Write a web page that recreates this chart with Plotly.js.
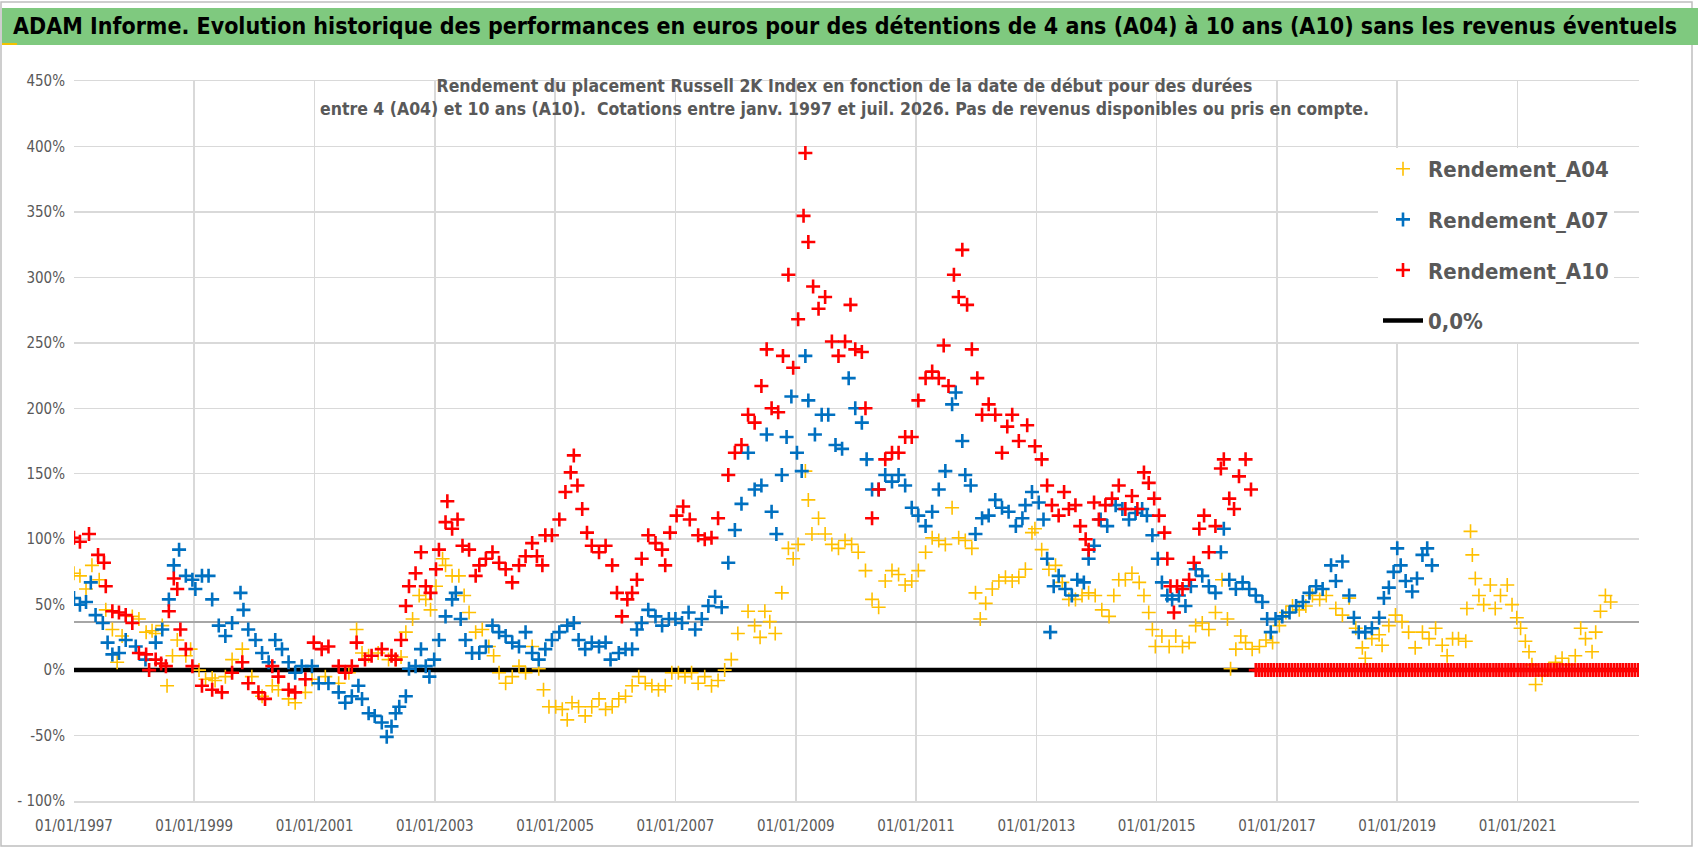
<!DOCTYPE html>
<html>
<head>
<meta charset="utf-8">
<script src="https://cdn.plot.ly/plotly-3.0.1.min.js"></script>
<style>
  html, body { margin: 0; padding: 0; background: #fff; }
  #chart { width: 1698px; height: 856px; }
</style>
</head>
<body>
<div id="chart"></div>
<script>
// values, in % ; x given as decimal years
const a04Years = [
  1997.0,1997.1,1997.2,1997.3,1997.42,1997.53,1997.64,1997.72,1997.8,1997.97,
  1998.08,1998.2,1998.3,1998.36,1998.47,1998.55,1998.64,1998.72,1998.86,1998.94,
  1999.08,1999.19,1999.3,1999.35,1999.52,1999.63,1999.8,1999.96,
  2000.13,2000.3,2000.4,2000.57,2000.68,2000.85,2000.96,
  2001.18,2001.4,2001.57,2001.7,2001.79,2001.9,
  2002.06,2002.23,2002.35,2002.44,2002.52,2002.63,2002.74,2002.85,2002.93,
  2003.02,2003.13,2003.18,2003.29,2003.4,2003.49,2003.57,2003.68,2003.79,2003.9,2003.98,
  2004.07,2004.18,2004.29,2004.4,2004.51,2004.62,2004.73,2004.81,2004.9,
  2005.01,2005.12,2005.2,2005.28,2005.39,2005.5,2005.61,2005.73,2005.84,2005.95,
  2006.06,2006.17,2006.28,2006.39,2006.5,2006.61,2006.72,2006.83,2006.94,
  2007.05,2007.16,2007.27,2007.38,2007.49,2007.6,2007.71,2007.82,2007.93,
  2008.04,2008.21,2008.32,2008.41,2008.49,2008.57,2008.66,2008.77,2008.88,2008.96,
  2009.04,2009.16,2009.21,2009.27,2009.38,2009.49,2009.6,2009.71,2009.82,2009.93,
  2010.04,2010.16,2010.27,2010.38,2010.49,2010.6,2010.71,2010.82,2010.93,
  2011.04,2011.16,2011.27,2011.38,2011.49,2011.6,2011.71,2011.82,2011.93,2011.99,
  2012.07,2012.16,2012.27,2012.38,2012.49,2012.6,2012.71,2012.82,2012.93,2012.98,
  2013.09,2013.21,2013.32,2013.43,2013.54,2013.65,2013.76,2013.87,2013.98,
  2014.09,2014.21,2014.29,2014.37,2014.48,2014.59,2014.71,2014.79,2014.87,2014.93,2014.98,
  2015.09,2015.21,2015.32,2015.43,2015.54,2015.65,2015.76,2015.87,2015.98,
  2016.09,2016.18,2016.23,2016.32,2016.4,2016.48,2016.59,2016.71,2016.82,2016.93,
  2017.04,2017.15,2017.26,2017.37,2017.48,2017.59,2017.71,2017.82,2017.98,
  2018.09,2018.2,2018.31,2018.42,2018.47,2018.58,2018.7,2018.75,2018.86,2018.97,
  2019.08,2019.19,2019.3,2019.42,2019.53,2019.64,2019.75,2019.83,2019.92,
  2020.02,2020.14,2020.16,2020.22,2020.25,2020.3,2020.36,2020.44,2020.55,2020.63,2020.72,2020.83,2020.91,2020.99,
  2021.05,2021.13,2021.19,2021.24,2021.3,2021.41,2021.52,2021.63,2021.74,2021.85,2021.96,
  2022.05,2022.13,2022.24,2022.3,2022.38,2022.46,2022.55
];
const a04Values = [
  74,72,62,80,69,46,31,6,26,41,
  39,29,30,28,34,-12,11,23,11,16,
  0,-7,-6,-8,-5,8,16,-5,
  -20,-12,-15,-22,-25,-17,-7,
  -5,-10,-2,31,13,11,
  13,8,8,10,29,39,57,54,46,
  64,85,80,72,72,57,44,29,31,18,11,
  -2,-10,-5,3,-2,18,1,-15,-28,
  -28,-30,-38,-25,-28,-35,-28,-22,-30,-28,
  -22,-20,-12,-5,-10,-12,-15,-12,-2,
  -2,-5,-2,-10,-5,-12,-8,0,8,
  28,45,34,25,45,37,28,59,93,85,
  96,152,130,104,116,104,96,93,99,96,
  90,76,54,48,68,76,73,65,68,
  76,90,101,99,96,124,101,99,93,59,
  39,51,62,68,71,68,71,77,105,108,
  92,77,80,67,54,54,57,59,57,
  46,41,57,69,69,74,67,57,44,31,18,
  26,18,26,18,21,34,36,31,44,
  69,39,1,16,26,21,16,18,23,21,
  34,44,49,46,49,57,54,57,47,
  42,55,32,17,9,24,27,19,34,42,
  37,29,17,29,24,32,19,11,24,
  24,22,47,106,88,70,57,50,65,47,57,65,50,40,
  32,22,14,4,-11,-4,1,6,9,4,11,
  32,24,14,29,45,57,52
];

const a07Years = [
  1997.0,1997.1,1997.2,1997.28,1997.36,1997.48,1997.56,1997.64,1997.75,1997.86,
  1998.03,1998.19,1998.36,1998.47,1998.58,1998.66,1998.75,1998.86,1998.97,
  1999.02,1999.13,1999.24,1999.3,1999.41,1999.52,1999.63,1999.77,1999.82,1999.9,
  2000.02,2000.13,2000.24,2000.35,2000.46,2000.57,2000.68,2000.79,2000.96,
  2001.07,2001.23,2001.4,2001.51,2001.62,2001.73,2001.79,2001.9,
  2002.0,2002.12,2002.2,2002.28,2002.35,2002.41,2002.52,2002.57,2002.68,2002.77,2002.85,2002.91,2002.99,
  2003.07,2003.18,2003.29,2003.35,2003.43,2003.51,2003.62,2003.74,2003.85,2003.96,
  2004.07,2004.18,2004.29,2004.4,2004.51,2004.62,2004.73,2004.84,2004.95,
  2005.07,2005.2,2005.31,2005.39,2005.5,2005.61,2005.73,2005.84,2005.92,
  2006.06,2006.17,2006.28,2006.36,2006.44,2006.55,2006.67,2006.78,2006.89,
  2007.0,2007.11,2007.22,2007.33,2007.44,2007.55,2007.66,2007.77,2007.88,2007.99,
  2008.1,2008.21,2008.32,2008.43,2008.52,2008.6,2008.68,2008.77,2008.85,2008.93,
  2009.02,2009.1,2009.16,2009.21,2009.32,2009.43,2009.54,2009.66,2009.77,2009.88,2009.99,
  2010.1,2010.18,2010.27,2010.38,2010.49,2010.6,2010.71,2010.82,2010.93,
  2011.04,2011.16,2011.27,2011.38,2011.49,2011.6,2011.66,2011.77,2011.82,2011.91,2011.99,
  2012.1,2012.21,2012.32,2012.43,2012.54,2012.66,2012.77,2012.82,2012.93,
  2013.04,2013.12,2013.18,2013.23,2013.29,2013.37,2013.48,2013.59,2013.68,2013.79,2013.87,2013.96,
  2014.07,2014.18,2014.32,2014.43,2014.54,2014.65,2014.76,2014.84,2014.93,
  2015.02,2015.09,2015.18,2015.26,2015.37,2015.48,2015.57,2015.65,2015.76,2015.87,2015.98,
  2016.07,2016.12,2016.21,2016.32,2016.43,2016.54,2016.65,2016.76,2016.84,2016.9,2016.98,
  2017.09,2017.21,2017.32,2017.43,2017.54,2017.65,2017.76,2017.9,2017.98,
  2018.09,2018.2,2018.28,2018.36,2018.47,2018.58,2018.7,2018.78,2018.86,2018.94,
  2019.0,2019.06,2019.14,2019.25,2019.33,2019.42,2019.5,2019.58
];
const a07Values = [
  55,50,52,67,42,36,21,12,13,23,
  18,8,21,31,54,80,92,72,69,
  62,72,72,54,34,26,36,59,46,31,
  23,13,6,23,16,6,-2,3,3,
  -10,-10,-17,-25,-20,-12,-22,-33,
  -35,-40,-51,-43,-33,-28,-20,1,3,16,3,-5,8,
  23,41,54,59,39,23,13,13,18,34,
  29,26,21,18,29,13,8,16,23,
  29,34,36,23,16,21,18,21,8,
  13,16,16,31,36,46,41,34,39,
  39,36,44,31,39,49,56,48,82,107,
  127,166,138,141,180,121,104,149,178,209,
  166,152,240,206,180,195,195,172,169,223,200,
  189,161,138,138,149,144,149,141,124,
  118,110,121,138,152,203,212,175,149,141,104,
  116,118,130,124,121,110,116,126,136,
  128,115,85,29,64,72,62,57,69,67,85,95,
  115,110,126,123,115,120,123,118,103,
  85,67,57,54,57,49,64,77,72,64,59,
  90,108,69,62,67,62,57,52,39,29,39,
  41,44,49,52,59,64,62,80,68,
  83,57,40,29,29,32,40,55,63,75,
  93,80,68,60,70,88,93,80
];

const a10Years = [
  1997.0,1997.1,1997.25,1997.4,1997.5,1997.53,1997.64,1997.75,1997.86,1997.97,
  1998.08,1998.2,1998.25,1998.36,1998.45,1998.53,1998.58,1998.66,1998.72,1998.77,1998.86,1998.97,
  1999.13,1999.3,1999.46,1999.63,1999.8,1999.9,
  2000.07,2000.18,2000.3,2000.4,2000.57,2000.68,2000.85,2000.99,
  2001.12,2001.23,2001.4,2001.51,2001.62,2001.7,2001.84,2001.95,
  2002.12,2002.28,2002.35,2002.44,2002.52,2002.57,2002.68,2002.77,2002.85,2002.93,
  2003.02,2003.07,2003.18,2003.21,2003.29,2003.38,2003.46,2003.57,2003.68,2003.74,2003.85,2003.96,
  2004.07,2004.18,2004.29,2004.4,2004.51,2004.62,2004.7,2004.79,2004.84,2004.95,
  2005.07,2005.17,2005.26,2005.31,2005.37,2005.45,2005.53,2005.61,2005.73,2005.84,2005.95,
  2006.03,2006.11,2006.2,2006.28,2006.36,2006.44,2006.55,2006.67,2006.78,2006.83,2006.91,
  2007.02,2007.13,2007.24,2007.38,2007.49,2007.6,2007.71,2007.88,2007.99,
  2008.1,2008.21,2008.32,2008.43,2008.52,2008.6,2008.71,2008.79,2008.88,2008.96,
  2009.04,2009.13,2009.16,2009.21,2009.29,2009.38,2009.49,2009.6,2009.71,2009.82,2009.91,2009.99,
  2010.1,2010.16,2010.27,2010.38,2010.49,2010.6,2010.71,2010.82,2010.93,
  2011.04,2011.16,2011.27,2011.38,2011.46,2011.54,2011.63,2011.71,2011.77,2011.85,2011.93,
  2012.02,2012.1,2012.21,2012.32,2012.43,2012.52,2012.6,2012.71,2012.85,2012.98,
  2013.09,2013.18,2013.26,2013.37,2013.46,2013.54,2013.65,2013.73,2013.82,2013.87,2013.96,
  2014.04,2014.15,2014.26,2014.37,2014.48,2014.59,2014.68,2014.79,2014.87,2014.96,
  2015.04,2015.13,2015.18,2015.23,2015.29,2015.34,2015.43,2015.54,2015.62,2015.71,2015.79,2015.87,2015.98,
  2016.07,2016.12,2016.21,2016.29,2016.37,2016.48,2016.57
];
const a10Values = [
  101,98,104,88,82,64,45,44,42,36,
  13,12,0,8,5,3,45,70,62,31,16,3,
  -12,-15,-17,-2,6,-10,
  -17,-22,3,-5,-15,-17,-7,21,
  16,18,3,-2,3,21,8,11,
  16,11,8,23,49,64,74,90,64,59,
  77,92,113,129,108,115,95,92,72,80,85,90,
  82,77,67,80,87,97,87,80,103,103,
  115,136,151,164,141,123,105,95,90,95,80,
  59,41,54,59,69,85,103,97,92,80,105,
  118,125,115,103,100,101,116,149,166,
  172,195,189,217,245,200,197,240,302,231,
  268,347,395,327,293,276,285,251,240,251,279,245,
  243,200,116,138,161,166,166,178,178,
  206,223,228,223,248,217,302,285,321,279,245,
  223,195,203,195,166,186,195,175,187,171,
  161,141,126,118,136,123,126,110,100,92,128,
  115,126,131,141,123,133,123,151,143,131,
  118,105,85,64,44,64,62,69,82,108,118,90,110,
  154,161,131,123,148,161,138
];
// no full 10-year horizon after mid-2016: the A10 series sits at 0
const a10TailYears = [
  2016.65,2016.7,2016.75,2016.8,2016.85,2016.9,2016.95,
  2017.0,2017.05,2017.1,2017.15,2017.2,2017.25,2017.3,2017.35,2017.4,2017.45,2017.5,2017.55,2017.6,2017.65,2017.7,2017.75,2017.8,2017.85,2017.9,2017.95,
  2018.0,2018.05,2018.1,2018.15,2018.2,2018.25,2018.3,2018.35,2018.4,2018.45,2018.5,2018.55,2018.6,2018.65,2018.7,2018.75,2018.8,2018.85,2018.9,2018.95,
  2019.0,2019.05,2019.1,2019.15,2019.2,2019.25,2019.3,2019.35,2019.4,2019.45,2019.5,2019.55,2019.6,2019.65,2019.7,2019.75,2019.8,2019.85,2019.9,2019.95,
  2020.0,2020.05,2020.1,2020.15,2020.2,2020.25,2020.3,2020.35,2020.4,2020.45,2020.5,2020.55,2020.6,2020.65,2020.7,2020.75,2020.8,2020.85,2020.9,2020.95,
  2021.0,2021.05,2021.1,2021.15,2021.2,2021.25,2021.3,2021.35,2021.4,2021.45,2021.5,2021.55,2021.6,2021.65,2021.7,2021.75,2021.8,2021.85,2021.9,2021.95,
  2022.0,2022.05,2022.1,2022.15,2022.2,2022.25,2022.3,2022.35,2022.4,2022.45,2022.5,2022.55,2022.6,2022.65,2022.7,2022.75,2022.8,2022.85,2022.9,2022.95,
  2023.0
];
const a10TailValues = [
  0,0,0,0,0,0,0,
  0,0,0,0,0,0,0,0,0,0,0,0,0,0,0,0,0,0,0,0,
  0,0,0,0,0,0,0,0,0,0,0,0,0,0,0,0,0,0,0,0,
  0,0,0,0,0,0,0,0,0,0,0,0,0,0,0,0,0,0,0,0,
  0,0,0,0,0,0,0,0,0,0,0,0,0,0,0,0,0,0,0,0,
  0,0,0,0,0,0,0,0,0,0,0,0,0,0,0,0,0,0,0,0,
  0,0,0,0,0,0,0,0,0,0,0,0,0,0,0,0,0,0,0,0,
  0
];

// grey horizontal reference and the 0,0% line
const refLevel = 36.8;
const axisStart = '1997-01-01';
const axisEnd = '2023-01-08';

const yTickVals = [-100, -50, 0, 50, 100, 150, 200, 250, 300, 350, 400, 450];
const yTickText = ['- 100%', '-50%', '0%', '50%', '100%', '150%', '200%', '250%', '300%', '350%', '400%', '450%'];
const xTickYears = [1997, 1999, 2001, 2003, 2005, 2007, 2009, 2011, 2013, 2015, 2017, 2019, 2021];

const FONT = '"Liberation Sans Narrow", "DejaVu Sans Condensed", "Arial Narrow", sans-serif';
const GREY_TEXT = '#595959';

function toDate(y) {
  const yr = Math.floor(y);
  const ms = Date.UTC(yr, 0, 1) + (y - yr) * 365.25 * 86400000;
  return new Date(ms).toISOString().slice(0, 10);
}

// plot area in pixels (for placing shapes / annotations)
const W = 1698, H = 856;
const M = { l: 74, r: 59, t: 81, b: 55 };
const pw = W - M.l - M.r, ph = H - M.t - M.b;
const px = x => (x - M.l) / pw;
const py = y => (H - M.b - y) / ph;

function scatterTrace(name, years, vals, color, lw, rank) {
  const n = Math.min(years.length, vals.length);
  return {
    type: 'scatter',
    mode: 'markers',
    name: name,
    legendrank: rank,
    legendgroup: name,
    x: years.slice(0, n).map(toDate),
    y: vals.slice(0, n),
    marker: {
      symbol: 'cross-thin',
      size: 10,
      color: color,
      line: { color: color, width: lw },
    },
    hoverinfo: 'x+y',
  };
}

const data = [
  {
    type: 'scatter', mode: 'lines', name: 'ref', showlegend: false,
    x: [axisStart, axisEnd], y: [refLevel, refLevel],
    line: { color: '#a6a6a6', width: 2 }, hoverinfo: 'none',
  },
  {
    type: 'scatter', mode: 'lines', name: '0,0%', legendrank: 4, legendgroup: 'zero',
    x: [axisStart, axisEnd], y: [0, 0],
    line: { color: '#000000', width: 4.5 }, hoverinfo: 'none',
  },
  scatterTrace('Rendement_A04', a04Years, a04Values, '#FFC000', 1.6, 1),
  scatterTrace('Rendement_A07', a07Years, a07Values, '#0070C0', 2.6, 2),
  scatterTrace('Rendement_A10', a10Years.concat(a10TailYears), a10Values.concat(a10TailValues), '#FF0000', 2.6, 3),
];

const layout = {
  width: W,
  height: H,
  margin: M,
  paper_bgcolor: '#ffffff',
  plot_bgcolor: '#ffffff',
  font: { family: FONT, color: GREY_TEXT },
  showlegend: true,
  legend: {
    x: px(1378), y: py(148), xanchor: 'left', yanchor: 'top',
    bgcolor: '#ffffff',
    font: { family: FONT, size: 22, color: GREY_TEXT, weight: 'bold' },
    tracegroupgap: 19,
    itemwidth: 40,
  },
  xaxis: {
    type: 'date',
    range: [axisStart, axisEnd],
    tickvals: xTickYears.map(y => y + '-01-01'),
    ticktext: xTickYears.map(y => '01/01/' + y),
    tickfont: { family: FONT, size: 15, color: GREY_TEXT },
    showgrid: true,
    gridcolor: '#d9d9d9',
    gridwidth: 1.5,
    zeroline: false,
    showline: true,
    mirror: true,
    linecolor: '#d9d9d9',
    linewidth: 1.5,
    ticks: '',
    ticklabelstandoff: 10,
  },
  yaxis: {
    range: [-100, 450],
    tickvals: yTickVals,
    ticktext: yTickText,
    tickfont: { family: FONT, size: 15, color: GREY_TEXT },
    showgrid: true,
    gridcolor: '#d9d9d9',
    gridwidth: 1.5,
    zeroline: false,
    ticks: '',
    ticklabelstandoff: 8,
  },
  shapes: [
    // outer frame
    { type: 'rect', xref: 'paper', yref: 'paper', layer: 'below',
      x0: px(1), x1: px(1692), y0: py(2), y1: py(846),
      line: { color: '#bfbfbf', width: 1.5 }, fillcolor: 'rgba(0,0,0,0)' },
    // green banner
    { type: 'rect', xref: 'paper', yref: 'paper', layer: 'above',
      x0: px(2), x1: px(1698), y0: py(8), y1: py(45),
      line: { width: 0 }, fillcolor: '#7fc97f' },
    { type: 'rect', xref: 'paper', yref: 'paper', layer: 'above',
      x0: px(2), x1: px(17), y0: py(43), y1: py(45),
      line: { width: 0 }, fillcolor: '#f2c200' },
  ],
  annotations: [
    {
      xref: 'paper', yref: 'paper', x: px(11), y: py(26),
      xanchor: 'left', yanchor: 'middle', showarrow: false,
      text: 'ADAM Informe. Evolution historique des performances en euros pour des détentions de 4 ans (A04) à 10 ans (A10) sans les revenus éventuels',
      font: { family: FONT, size: 23, color: '#000000', weight: 'bold' },
    },
    {
      xref: 'paper', yref: 'paper', x: px(844), y: py(97),
      xanchor: 'center', yanchor: 'middle', showarrow: false,
      align: 'center',
      text: 'Rendement du placement Russell 2K Index en fonction de la date de début pour des durées<br>entre 4 (A04) et 10 ans (A10).  Cotations entre janv. 1997 et juil. 2026. Pas de revenus disponibles ou pris en compte.',
      font: { family: FONT, size: 17.5, color: GREY_TEXT, weight: 'bold' },
    },
  ],
};

Plotly.newPlot('chart', data, layout, { displayModeBar: false, staticPlot: true });
</script>
</body>
</html>
